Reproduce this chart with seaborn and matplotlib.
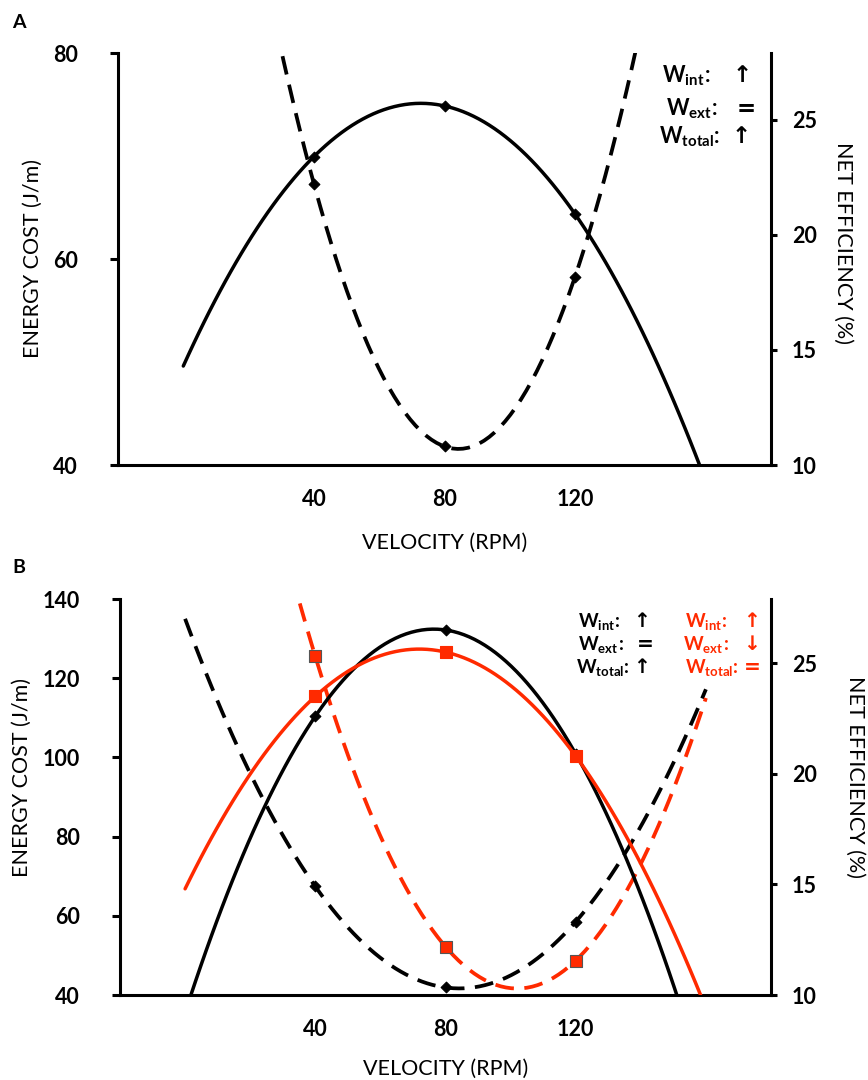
import numpy as np
import matplotlib
matplotlib.use("Agg")
import matplotlib.pyplot as plt
import seaborn as sns

# values (cadence 40/80/120 rpm)
velocity = [40, 80, 120]

# panel A
cost_a = [67.3, 41.8, 58.3]        # energy cost, J/m (left axis, dashed)
eff_a = [23.4, 25.6, 20.9]         # net efficiency, % (right axis, solid)

# panel B, black and red conditions
cost_b_black = [67.4, 41.9, 58.5]
eff_b_black = [22.6, 26.5, 20.9]
cost_b_red = [125.5, 52.2, 48.7]
eff_b_red = [23.5, 25.5, 20.8]

xticks = [40, 80, 120]
yticks_a = [40, 60, 80]
yticks_b = [40, 60, 80, 100, 120, 140]
yticks_eff = [10, 15, 20, 25]

RED = "#ff2a00"
W, H = 868, 1080

sns.set_style("white")
plt.rcParams["font.family"] = ["Lato", "DejaVu Sans"]
plt.rcParams["mathtext.fontset"] = "custom"
plt.rcParams["mathtext.bf"] = "Lato:bold"
plt.rcParams["mathtext.rm"] = "Lato"
plt.rcParams["text.color"] = "black"
plt.rcParams["axes.labelcolor"] = "black"
plt.rcParams["xtick.color"] = "black"
plt.rcParams["ytick.color"] = "black"


def trend(ax, y, color, dashed, marker, size, edge):
    # quadratic trendline like the original (fit over 0-160 rpm)
    line_kws = {"lw": 2.7 if dashed else 2.5, "zorder": 2}
    if dashed:
        line_kws["linestyle"] = "--"
        line_kws["dashes"] = (5, 2.8)
    sns.regplot(x=velocity, y=y, ax=ax, order=2, ci=None, truncate=False,
                color=color, marker=marker,
                scatter_kws={"s": size, "alpha": 1, "edgecolor": edge,
                             "linewidths": 0.8, "zorder": 3},
                line_kws=line_kws)


def setup(ax, ax2, yticks, ylim):
    ax.set_xlim(-20, 180)
    ax.set_ylim(*ylim)
    ax2.set_ylim(10, 27.9)
    ax.set_xticks(xticks)
    ax.set_yticks(yticks)
    ax2.set_yticks(yticks_eff)
    for a in (ax, ax2):
        for s in a.spines.values():
            s.set_linewidth(2.2)
            s.set_color("black")
        a.spines["top"].set_visible(False)
        a.grid(False)
    ax.spines["right"].set_visible(False)
    ax2.spines["left"].set_visible(False)
    ax2.spines["bottom"].set_visible(False)
    ax.tick_params(axis="x", length=0, pad=17, labelsize=15.5)
    ax.tick_params(axis="y", left=True, length=6, width=2.2, pad=23, labelsize=15.5)
    ax2.tick_params(axis="y", right=True, length=4, width=2.2, pad=11, labelsize=15.5)
    for lab in ax.get_xticklabels() + ax.get_yticklabels() + ax2.get_yticklabels():
        lab.set_fontweight("bold")
    ax.set_xlabel("VELOCITY (RPM)", fontsize=15.5)
    ax.set_ylabel("ENERGY COST (J/m)", fontsize=15.5)
    ax2.set_ylabel("NET EFFICIENCY (%)", fontsize=15.5, rotation=270, va="center")


def px(x, y):
    return x / W, 1 - y / H


def work_label(x, y, name, sym_x, sym, color, size):
    t = fig.text(*px(x, y), r"$\mathbf{W_{%s}}$" % name, color=color,
                 fontsize=size, va="baseline", ha="left")
    fig.canvas.draw()
    bb = t.get_window_extent()
    fig.text(bb.x1 / W, 1 - y / H, ":", color=color, fontsize=size,
             fontweight="bold", va="baseline", ha="left")
    fig.text(*px(sym_x, y), sym, color=color, fontsize=size + 1, va="baseline",
             ha="center", family=["DejaVu Sans"], fontweight="bold")


fig = plt.figure(figsize=(W / 100, H / 100), dpi=100)

# ---- panel A
ax_a = fig.add_axes([118 / W, 1 - 465 / H, 653 / W, 412 / H])
ax_a2 = ax_a.twinx()
ax_a.set_xlim(0, 160)
trend(ax_a, cost_a, "black", True, "D", 30, "black")
trend(ax_a2, eff_a, "black", False, "D", 30, "black")
setup(ax_a, ax_a2, yticks_a, (40, 80))
ax_a.yaxis.set_label_coords(-0.115, 0.50)
ax_a2.yaxis.set_label_coords(1.11, 0.54)
ax_a.xaxis.set_label_coords(0.50, -0.165)

# ---- panel B
ax_b = fig.add_axes([120 / W, 1 - 995 / H, 651 / W, 396 / H])
ax_b2 = ax_b.twinx()
ax_b.set_xlim(0, 160)
trend(ax_b, cost_b_black, "black", True, "D", 30, "black")
trend(ax_b, cost_b_red, RED, True, "s", 80, "#555555")
trend(ax_b2, eff_b_black, "black", False, "D", 30, "black")
trend(ax_b2, eff_b_red, RED, False, "s", 80, RED)
setup(ax_b, ax_b2, yticks_b, (40, 140))
ax_b.yaxis.set_label_coords(-0.135, 0.55)
ax_b2.yaxis.set_label_coords(1.13, 0.55)
ax_b.xaxis.set_label_coords(0.50, -0.16)

# panel letters
fig.text(*px(12, 28), "A", fontsize=14, fontweight="bold")
fig.text(*px(12, 573), "B", fontsize=14, fontweight="bold")

# work annotations
work_label(662, 82, "int", 742, "↑", "black", 15.5)
work_label(666, 115, "ext", 746, "=", "black", 15.5)
work_label(659, 143, "total", 741, "↑", "black", 15.5)

work_label(578, 627, "int", 642, "↑", "black", 13.5)
work_label(578, 650, "ext", 645, "=", "black", 13.5)
work_label(576, 673, "total", 642, "↑", "black", 13.5)
work_label(685, 627, "int", 752, "↑", RED, 13.5)
work_label(683, 650, "ext", 752, "↓", RED, 13.5)
work_label(685, 673, "total", 752, "=", RED, 13.5)

fig.savefig("out.png", dpi=100, facecolor="white")
